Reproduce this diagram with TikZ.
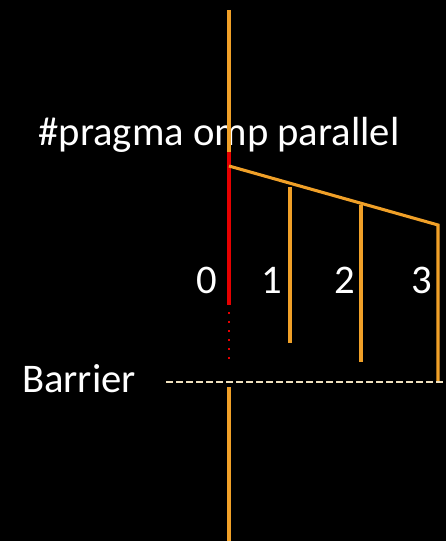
\documentclass[tikz,border=0pt]{standalone}
\usepackage{fontspec}
\setmainfont{Carlito}
\definecolor{orng}{RGB}{240,160,40}
\definecolor{rd}{RGB}{230,0,0}
\definecolor{cream}{RGB}{240,225,190}
\begin{document}
\begin{tikzpicture}[x=0.75pt,y=-0.75pt,
  thr/.style={draw=orng,line width=2.3pt},
  master/.style={draw=rd,line width=2.5pt},
  lbl/.style={text=white,font=\fontsize{30.5}{36}\selectfont,inner sep=0pt}]
\fill[black] (0,0) rectangle (446,541);
\useasboundingbox (0,0) rectangle (446,541);
\node[lbl] (pragma) at (219,135) {\#pragma omp parallel};
\node[lbl] (t0) at (207,280) {0};
\node[lbl] (t1) at (272,280) {1};
\node[lbl] (t2) at (345,280) {2};
\node[lbl] (t3) at (422,280) {3};
\node[lbl,anchor=east] (barrier) at (136,379) {Barrier};
\coordinate (top) at (229,10);
\coordinate (rs) at (229,152);
\coordinate (fork) at (229,166);
\coordinate (re) at (229,305);
\coordinate (ds) at (229,312);
\coordinate (de) at (229,364);
\coordinate (bs) at (229,387);
\coordinate (bot) at (229,541);
\coordinate (f3) at (438,225);
\coordinate (a1) at (290,187);
\coordinate (b1) at (290,343);
\coordinate (a2) at (361,205);
\coordinate (b2) at (361,362);
\coordinate (b3) at (438,382);
\coordinate (bl) at (166,382);
\coordinate (br) at (446,382);
\draw[thr] (top) -- (rs);
\draw[master] (rs) -- (re);
\draw[draw=rd,line width=2pt,dash pattern=on 1.8pt off 4.95pt] (ds) -- (de);
\draw[thr] (fork) -- (f3) -- (b3);
\draw[thr] (a1) -- (b1);
\draw[thr] (a2) -- (b2);
\draw[draw=cream,line width=1.5pt,dash pattern=on 5pt off 2.5pt] (bl) -- (br);
\draw[thr] (bs) -- (bot);
\end{tikzpicture}
\end{document}
